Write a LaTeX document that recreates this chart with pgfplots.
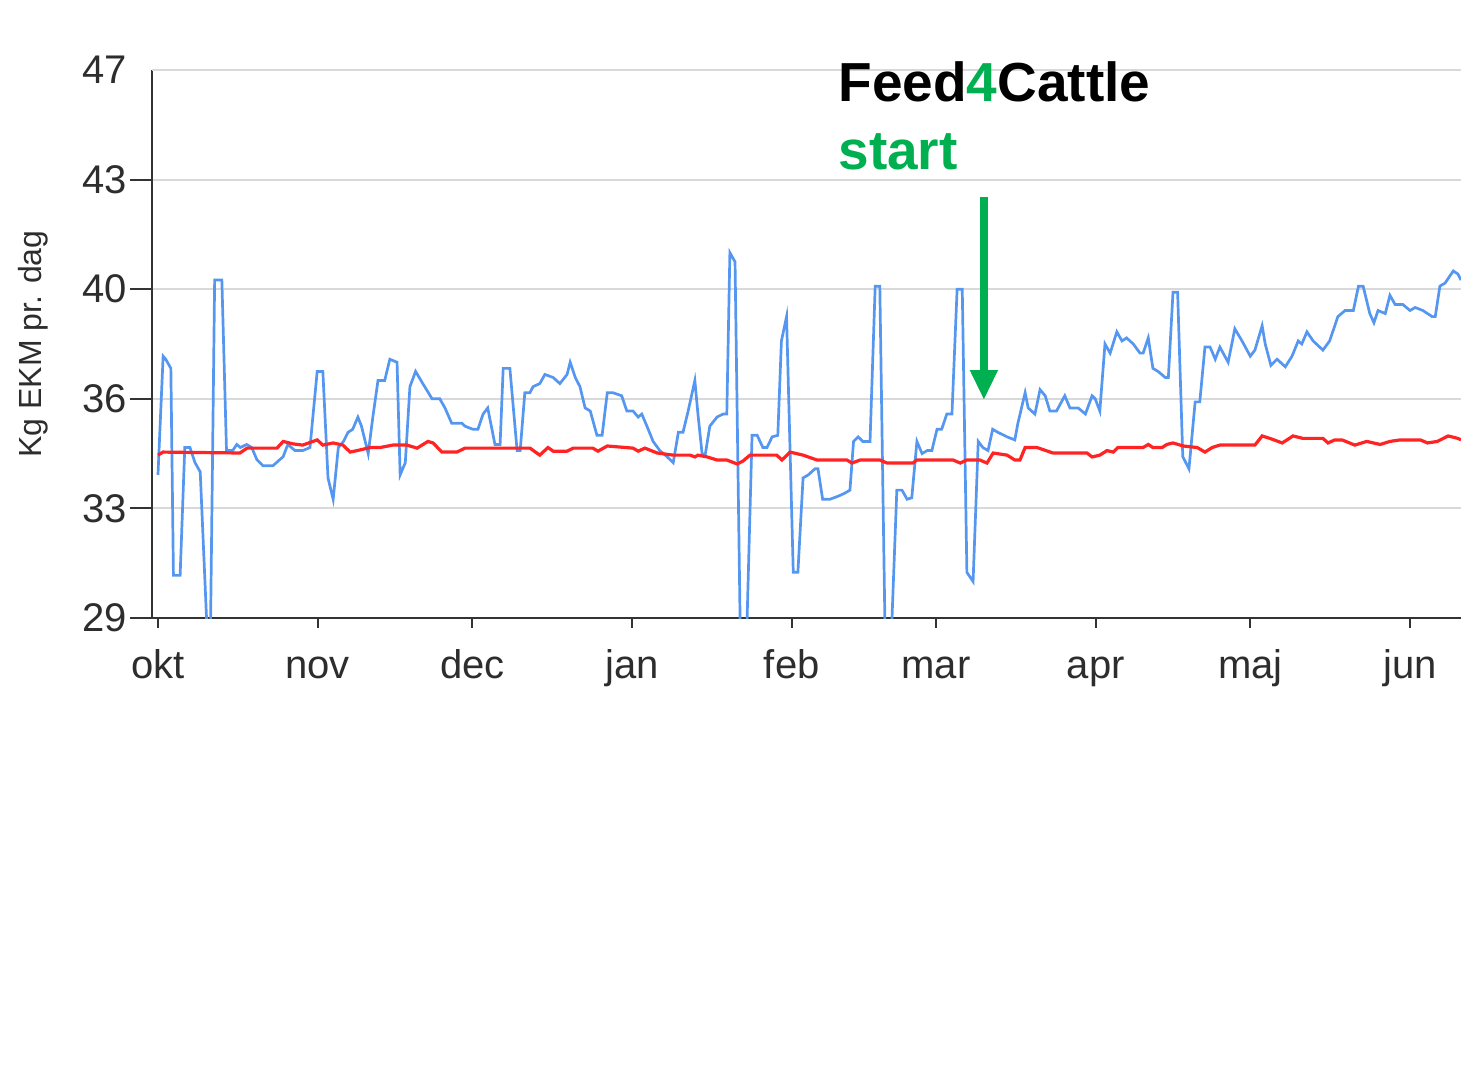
\documentclass[border=0pt]{standalone}
\usepackage{pgfplots}
\pgfplotsset{compat=1.18}
\usepackage{fontspec}
\setmainfont{Liberation Sans}
\usetikzlibrary{arrows.meta}
\definecolor{lblue}{RGB}{85,150,240}
\definecolor{lred}{RGB}{255,35,35}
\definecolor{fgreen}{RGB}{0,176,80}
\definecolor{txt}{RGB}{45,45,45}
\begin{document}
\begin{tikzpicture}
\useasboundingbox (-76pt,-227.5pt) rectangle (654.5pt,309pt);
\begin{axis}[
  scale only axis, width=654.5pt, height=274pt,
  at={(0,0)}, anchor=south west,
  xmin=-1.16, xmax=252.9, ymin=29, ymax=47,
  axis x line*=bottom, axis y line*=left,
  axis line style={draw=black!80, line width=1pt},
  xtick={0,31,61,92,123,151,182,212,243},
  xticklabels={okt,nov,dec,jan,feb,mar,apr,maj,jun},
  ytick={29,32.6,36.2,39.8,43.4},
  yticklabels={29,33,36,40,43},
  extra y ticks={47},
  extra y tick labels={47},
  extra y tick style={major tick style={draw=none}},
  tick align=outside,
  major tick length=11pt,
  xtick style={/pgfplots/major tick length=5pt},
  tick style={draw=black!80, line width=1pt},
  ticklabel style={font=\fontsize{20}{24}\selectfont, text=txt},
  xticklabel style={anchor=base, yshift=-19pt},
  yticklabel style={xshift=2pt},
  ymajorgrids,
  major grid style={draw=black!15, line width=1pt},
  clip mode=individual,
]
\addplot[lblue, line width=1.35pt] coordinates {
(0,33.7) (1,37.6) (1.5,37.5) (2.5,37.2) (3.0,30.4) (4.3,30.4) (5.2,34.6) (6.2,34.6)
(7.2,34.1) (8.2,33.8) (9.5,28.7) (10.2,28.7) (11.0,40.1) (12.4,40.1) (13.3,34.5) (14.5,34.5)
(15.3,34.7) (16.0,34.6) (17.2,34.7) (18.2,34.6) (19.2,34.2) (20.4,34.0) (22.3,34.0) (24.3,34.3)
(25.2,34.7) (26.6,34.5) (28.1,34.5) (29.5,34.6) (30.9,37.1) (32.0,37.1) (33.0,33.6) (34.0,32.9)
(35.0,34.6) (36.0,34.8) (36.9,35.1) (37.8,35.2) (38.8,35.6) (39.5,35.3) (40.8,34.4) (41.7,35.6)
(42.7,36.8) (44.0,36.8) (45.0,37.5) (46.4,37.4) (47.0,33.7) (48.0,34.1) (48.9,36.6) (50.0,37.1)
(51.4,36.7) (53.2,36.2) (54.7,36.2) (55.7,35.9) (57.0,35.4) (59.0,35.4) (59.6,35.3) (61.1,35.2)
(62.1,35.2) (63.1,35.7) (64.0,35.9) (65.4,34.7) (66.4,34.7) (67.0,37.2) (68.3,37.2) (69.7,34.5)
(70.3,34.5) (71.2,36.4) (72.2,36.4) (72.8,36.6) (74.1,36.7) (75.1,37.0) (76.7,36.9) (78.0,36.7)
(79.4,37.0) (80.0,37.4) (81.0,36.9) (81.9,36.6) (82.9,35.9) (83.9,35.8) (85.2,35.0) (86.2,35.0)
(87.2,36.4) (88.3,36.4) (90.0,36.3) (91.0,35.8) (92.2,35.8) (93.2,35.6) (93.9,35.7) (94.9,35.3)
(96.1,34.8) (97.4,34.5) (98.8,34.3) (100.0,34.1) (101.0,35.1) (101.9,35.1) (102.9,35.8) (104.2,36.8)
(104.8,35.7) (105.6,34.4) (106.2,34.35) (107.1,35.3) (108.5,35.6) (109.7,35.7) (110.4,35.7) (111.0,41.0)
(112.0,40.7) (113.0,28.7) (114.3,28.7) (115.3,35.0) (116.3,35.0) (117.4,34.6) (118.2,34.6) (119.2,34.95)
(120.3,35.0) (121.0,38.1) (122.0,38.9) (123.3,30.5) (124.2,30.5) (125.2,33.6) (126.2,33.7) (127.5,33.9)
(128.1,33.9) (129.0,32.9) (130.4,32.9) (132.0,33.0) (133.3,33.1) (134.3,33.2) (135.0,34.8) (135.9,34.95)
(136.8,34.8) (138.2,34.8) (139.2,39.9) (140.1,39.9) (141.1,28.7) (142.4,28.7) (143.4,33.2) (144.4,33.2)
(145.4,32.9) (146.3,32.95) (147.3,34.8) (148.3,34.4) (149.3,34.5) (150.2,34.5) (151.2,35.2) (152.1,35.2)
(153.1,35.7) (154.1,35.7) (155.1,39.8) (156.1,39.8) (157.0,30.5) (158.2,30.2) (159.2,34.8) (160.1,34.6)
(161.1,34.5) (162.0,35.2) (163.0,35.1) (164.8,34.95) (166.3,34.85) (166.9,35.4) (168.3,36.4) (168.9,35.9)
(170.2,35.7) (171.2,36.5) (172.2,36.3) (173.1,35.8) (174.4,35.8) (176.0,36.3) (177.0,35.9) (178.6,35.9)
(180.0,35.7) (181.3,36.3) (181.9,36.2) (182.8,35.8) (183.8,38.0) (184.8,37.7) (186.1,38.4) (187.1,38.1)
(188.0,38.2) (189.3,38.0) (190.6,37.7) (191.2,37.7) (192.2,38.2) (193.1,37.2) (194.1,37.1) (195.5,36.9)
(196.1,36.9) (197.0,39.7) (197.9,39.7) (198.9,34.3) (200.1,33.9) (201.3,36.1) (202.2,36.1) (203.2,37.9)
(204.2,37.9) (205.2,37.5) (206.1,37.9) (207.7,37.4) (209.0,38.5) (210.4,38.1) (212.0,37.6) (212.9,37.8)
(214.3,38.6) (214.9,38.0) (216.0,37.3) (217.2,37.5) (218.8,37.25) (220.1,37.6) (221.3,38.1) (222.0,38.0)
(223.0,38.4) (224.2,38.1) (226.1,37.8) (227.4,38.1) (229.0,38.9) (230.4,39.1) (232.0,39.1) (233.0,39.9)
(233.9,39.9) (235.2,39.0) (236.0,38.7) (236.8,39.1) (238.2,39.0) (239.1,39.6) (240.1,39.3) (241.6,39.3)
(243.0,39.1) (244.0,39.2) (245.5,39.1) (247.3,38.9) (247.9,38.9) (248.8,39.9) (249.8,40.0) (251.4,40.4)
(252.3,40.3) (252.9,40.1)
};
\addplot[lred, line width=1.6pt] coordinates {
(0,34.35) (1.0,34.45) (15.9,34.42) (17.3,34.58) (23.1,34.58) (24.3,34.8) (26.2,34.72) (28.1,34.68)
(30.9,34.85) (32.0,34.68) (34.0,34.75) (35.9,34.68) (37.3,34.45) (39.2,34.52) (41.2,34.6) (43.1,34.6)
(45.6,34.68) (48.3,34.68) (50.3,34.58) (52.4,34.8) (53.4,34.75) (55.1,34.45) (58.0,34.45) (59.6,34.58)
(62.1,34.58) (72.2,34.58) (74.1,34.35) (75.7,34.6) (76.7,34.48) (79.4,34.48) (80.6,34.58) (84.4,34.58)
(85.4,34.48) (87.2,34.65) (92.2,34.58) (93.2,34.48) (94.5,34.58) (96.9,34.42) (100.0,34.35) (103.3,34.35)
(104.2,34.29) (104.8,34.35) (106.6,34.29) (108.5,34.19) (110.4,34.19) (112.4,34.06) (113.5,34.15) (114.9,34.35)
(120.1,34.35) (121.1,34.19) (122.7,34.45) (125.2,34.35) (127.9,34.19) (133.7,34.19) (134.7,34.09) (136.3,34.19)
(140.1,34.19) (141.5,34.09) (146.5,34.09) (147.3,34.19) (154.3,34.19) (155.7,34.09) (157.0,34.19) (159.5,34.19)
(160.9,34.09) (162.1,34.42) (164.8,34.35) (166.3,34.19) (167.3,34.19) (168.3,34.6) (170.6,34.6) (173.7,34.42)
(180.3,34.42) (181.3,34.29) (182.8,34.35) (184.2,34.5) (185.4,34.45) (186.3,34.6) (191.2,34.6) (192.2,34.7)
(193.1,34.6) (194.9,34.6) (195.8,34.7) (197.0,34.75) (199.0,34.65) (201.7,34.6) (203.2,34.45) (204.6,34.6)
(206.1,34.68) (212.9,34.68) (214.3,34.98) (215.8,34.9) (218.2,34.75) (220.3,34.98) (222.2,34.9) (226.1,34.9)
(227.1,34.75) (228.4,34.85) (229.8,34.85) (232.3,34.68) (234.6,34.8) (237.2,34.7) (239.1,34.8) (241.1,34.85)
(245.0,34.85) (246.4,34.75) (248.3,34.8) (250.4,34.98) (252.3,34.9) (252.9,34.85)
};
\draw[fgreen, line width=4pt, -{Triangle[width=13pt,length=15pt]}] (axis cs:160.3,42.83) -- (axis cs:160.3,36.16);
\node[anchor=base west, inner sep=0pt, font=\fontsize{27.5}{33}\selectfont\bfseries] at (axis cs:132.0,45.95) {Feed{\color{fgreen}4}Cattle};
\node[anchor=base west, inner sep=0pt, font=\fontsize{27.5}{33}\selectfont\bfseries, text=fgreen] at (axis cs:132.0,43.72) {start};
\end{axis}
\node[rotate=90, font=\fontsize{16}{19}\selectfont, text=txt] at (-59.5pt,137pt) {Kg EKM pr. dag};
\end{tikzpicture}
\end{document}
